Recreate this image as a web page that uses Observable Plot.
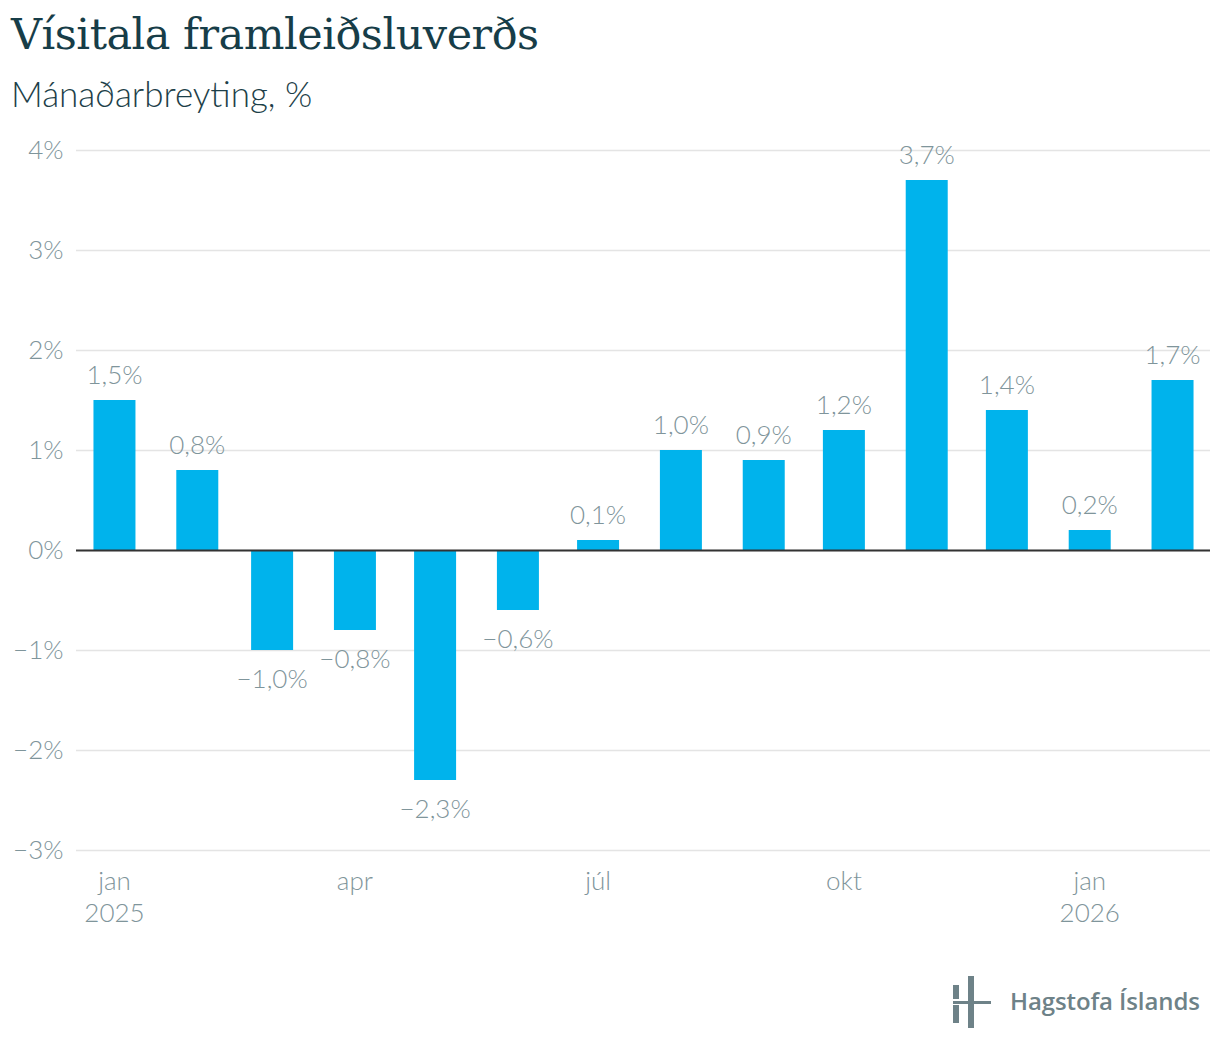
<!DOCTYPE html>
<html>
<head>
<meta charset="utf-8">
<script src="https://cdn.jsdelivr.net/npm/d3@7"></script>
<script src="https://cdn.jsdelivr.net/npm/@observablehq/plot@0.6"></script>
<style>
  html, body { margin: 0; padding: 0; background: #fff; }
  #wrap { position: relative; width: 1220px; height: 1052px; overflow: hidden; }
  #title { position: absolute; left: 11px; top: 9px; font-family: "DejaVu Serif", serif; font-size: 43px; color: #173d48; letter-spacing: -0.5px; white-space: nowrap; }
  #subtitle { position: absolute; left: 11px; top: 72px; font-family: Lato, sans-serif; font-weight: 300; font-size: 35px; color: #1d3f49; white-space: nowrap; }
  #chart { position: absolute; left: 0; top: 120px; }
  #logo { position: absolute; left: 950px; top: 972px; display: flex; align-items: center; }
  #logo span { font-family: "Open Sans", sans-serif; font-weight: 600; font-size: 24px; color: #6e8288; margin-left: 18px; letter-spacing: -0.1px; }
</style>
</head>
<body>
<div id="wrap">
  <div id="title">Vísitala framleiðsluverðs</div>
  <div id="subtitle">Mánaðarbreyting, %</div>
  <div id="chart"></div>
  <div id="logo">
    <svg width="42" height="56" viewBox="0 0 42 56">
      <rect x="3" y="13" width="6" height="14" fill="#6e8288"/>
      <rect x="3" y="33" width="6" height="18" fill="#6e8288"/>
      <rect x="18" y="4" width="6" height="52" fill="#6e8288"/>
      <rect x="3" y="29" width="38" height="3" fill="#6e8288"/>
    </svg>
    <span>Hagstofa Íslands</span>
  </div>
</div>
<script>
const months = ["2025-01-01","2025-02-01","2025-03-01","2025-04-01","2025-05-01","2025-06-01","2025-07-01","2025-08-01","2025-09-01","2025-10-01","2025-11-01","2025-12-01","2026-01-01","2026-02-01"];
const values = [1.5, 0.8, -1.0, -0.8, -2.3, -0.6, 0.1, 1.0, 0.9, 1.2, 3.7, 1.4, 0.2, 1.7];
const yTicks = [-3, -2, -1, 0, 1, 2, 3, 4];
const xTickDates = ["2025-01-01","2025-04-01","2025-07-01","2025-10-01","2026-01-01"];
const xTickLabels = ["jan\n2025", "apr", "júl", "okt", "jan\n2026"];

const data = months.map((m, i) => ({date: new Date(m + "T00:00:00Z"), value: values[i]}));
const tickDates = xTickDates.map(d => new Date(d + "T00:00:00Z"));
const tickLabelMap = new Map(tickDates.map((d, i) => [+d, xTickLabels[i]]));

const fmt = v => (v < 0 ? "\u2212" : "") + Math.abs(v).toFixed(1).replace(".", ",") + "%";
const fmtTick = v => (v < 0 ? "\u2212" : "") + Math.abs(v) + "%";

const gray = "#7f959b";
const chart = Plot.plot({
  width: 1220,
  height: 820,
  marginTop: 30,
  marginBottom: 90,
  marginLeft: 76,
  marginRight: 10,
  style: {fontFamily: "Lato, sans-serif", fontWeight: 300, fontSize: "26px", color: gray, background: "transparent"},
  x: {type: "utc", domain: [new Date(Date.UTC(2024, 11, 17, 19)), new Date(Date.UTC(2026, 1, 15, 5))]},
  y: {domain: [-3, 4]},
  marks: [
    Plot.gridY(yTicks, {stroke: "#e4e4e4", strokeOpacity: 1, strokeWidth: 1.5}),
    Plot.axisY(yTicks, {tickSize: 0, tickPadding: 13, tickFormat: fmtTick, fill: gray, fontSize: 26, label: null}),
    Plot.axisX(tickDates, {tickSize: 0, tickPadding: 16, tickFormat: d => tickLabelMap.get(+d), fill: gray, fontSize: 26, lineHeight: 1.25, label: null}),
    Plot.ruleX(data, {x: "date", y1: 0, y2: "value", stroke: "#00b3ec", strokeWidth: 42}),
    Plot.ruleY([0], {stroke: "#333", strokeWidth: 2}),
    Plot.text(data.filter(d => d.value >= 0), {x: "date", y: "value", text: d => fmt(d.value), dy: -25, fill: gray, fontSize: 26}),
    Plot.text(data.filter(d => d.value < 0), {x: "date", y: "value", text: d => fmt(d.value), dy: 29, fill: gray, fontSize: 26})
  ]
});
document.getElementById("chart").appendChild(chart);
</script>
</body>
</html>
